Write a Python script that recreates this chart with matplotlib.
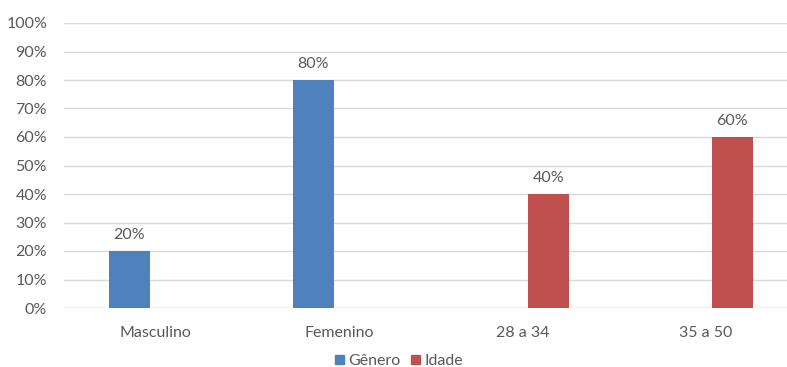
import numpy as np
import matplotlib.pyplot as plt
from matplotlib.patches import Patch

plt.rcParams['font.family'] = ['Lato', 'DejaVu Sans']

categorias = ["Masculino", "Femenino", "28 a 34", "35 a 50"]
genero = [20, 80, None, None]
idade = [None, None, 40, 60]
series_nomes = ["Gênero", "Idade"]

azul = "#4F81BD"
vermelho = "#C0504D"
cinza_texto = "#595959"
cinza_grade = "#D9D9D9"

W, H = 787, 367
fig = plt.figure(figsize=(W / 100, H / 100), dpi=100)

# plot area in pixels: left edge, 0% line and 100% line
left_px, bottom_px, top_px = 63.75, 308, 23
cat_px = 183.5
ax = fig.add_axes([left_px / W, 1 - bottom_px / H, (W - left_px) / W, (bottom_px - top_px) / H])

x = np.arange(len(categorias))
largura = 41 / cat_px
desloc = 26 / cat_px

for vals, sinal, cor in [(genero, -1, azul), (idade, 1, vermelho)]:
    for xi, v in zip(x, vals):
        if v is None:
            continue
        ax.bar(xi + sinal * desloc, v / 100, width=largura, color=cor, zorder=3)
        ax.annotate(f"{v}%", (xi + sinal * desloc, v / 100), xytext=(0, 9),
                    textcoords="offset pixels", ha="center", va="bottom",
                    fontsize=11.5, color=cinza_texto)

ax.set_xlim(-0.5, -0.5 + (W - left_px) / cat_px)
ax.set_ylim(0, 1)
ax.set_yticks(np.arange(0, 1.01, 0.1))
ax.set_yticklabels([f"{int(round(t * 100))}%" for t in np.arange(0, 1.01, 0.1)])
ax.set_xticks(x)
ax.set_xticklabels(categorias)

ax.grid(axis="y", color=cinza_grade, linewidth=1, zorder=0)
for s in ["top", "right", "left", "bottom"]:
    ax.spines[s].set_visible(False)
ax.axhline(0, color=cinza_grade, linewidth=1, zorder=2)
ax.tick_params(axis="both", length=0, labelsize=11.5, labelcolor=cinza_texto)
ax.tick_params(axis="y", pad=12)
ax.tick_params(axis="x", pad=13)

handles = [Patch(color=azul), Patch(color=vermelho)]
fig.legend(handles, series_nomes, loc="center", bbox_to_anchor=(399 / W, 1 - 361 / H),
           ncol=2, frameon=False, fontsize=11.5, handlelength=0.55, handleheight=0.55,
           handletextpad=0.25, columnspacing=0.7, labelcolor=cinza_texto)

fig.savefig("out.png", dpi=100)
